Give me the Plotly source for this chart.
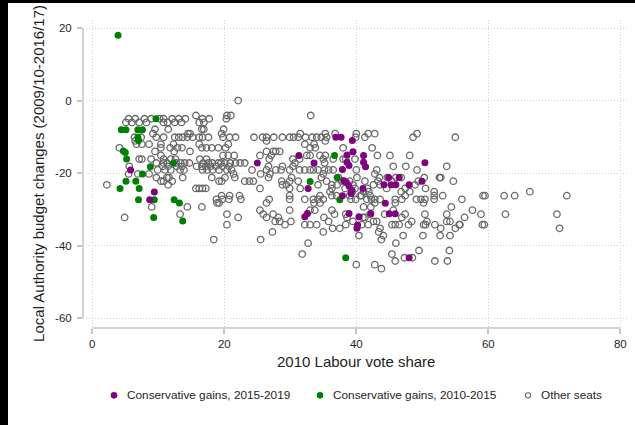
import plotly.graph_objects as go

# ---------------- data ----------------
x_ticks = [0, 20, 40, 60, 80]
x_tick_text = ["0", "20", "40", "60", "80"]
y_ticks = [20, 0, -20, -40, -60]
y_tick_text = ["20", "0", "-20", "-40", "-60"]

purple_name = "Conservative gains, 2015-2019"
green_name = "Conservative gains, 2010-2015"
gray_name = "Other seats"

purple_x = [5.8, 8.7, 9.4, 25.0, 31.3, 33.6, 32.7, 32.2, 32.6, 38.9, 40.4, 40.2,
            40.1, 42.2, 36.9, 37.7, 39.4, 39.5, 38.6, 38.6, 38.9, 37.9, 41.1, 41.1,
            41.4, 38.1, 38.5, 38.9, 39.3, 39.2, 37.9, 41.0, 50.4, 44.9, 46.5, 44.2,
            45.3, 46.0, 48.0, 49.95, 44.4, 45.0, 45.9, 48.0]
purple_y = [-19.1, -27.3, -25.2, -17.2, -15.1, -17.2, -24.2, -32.0, -31.1, -31.1, -32.0, -34.3,
            -35.2, -31.1, -10.1, -10.1, -11.0, -14.1, -15.0, -17.0, -17.9, -19.0, -15.1, -17.0,
            -18.2, -22.1, -22.5, -23.5, -24.8, -25.5, -26.2, -24.2, -17.1, -21.2, -21.2, -23.2,
            -23.2, -23.2, -23.2, -22.2, -28.3, -31.2, -31.2, -43.3]

green_x = [3.9, 4.4, 5.1, 6.9, 7.6, 9.65, 6.9, 7.0, 4.7, 5.0, 5.2, 7.6, 8.8, 12.3,
           4.2, 5.1, 6.6, 7.1, 7.0, 9.4, 12.4, 13.2, 9.3, 13.7, 38.4, 37.5, 36.7,
           33.0, 37.1]
green_y = [18.0, -8.0, -8.0, -8.0, -8.0, -5.0, -10.1, -11.0, -13.9, -14.3, -16.1, -20.2, -18.2, -17.2,
           -24.2, -22.2, -22.2, -24.2, -27.3, -27.3, -27.3, -28.2, -32.2, -33.2, -43.3, -27.3, -15.1,
           -22.3, -21.2]

gray_x = [
    22.1,
    15.7, 20.4, 21.0, 33.1,
    5.5, 6.5, 7.9, 8.9, 10.2, 10.8, 12.1, 13.1, 14.1, 16.7, 17.7, 20.3,
    5.1, 6.0, 7.1, 8.2, 10.8, 11.4, 12.5, 13.5, 16.2, 16.9,
    9.5, 11.5, 16.6, 16.9, 19.9,
    9.2, 14.5, 14.8, 19.6, 31.5, 35.3, 36.8, 40.0, 41.8, 42.8, 49.2,
    6.4, 7.4, 9.7, 10.8, 12.5, 13.1, 13.7, 14.4, 15.2, 16.2, 16.7, 17.6, 19.8, 20.8, 21.7, 24.5,
    25.8, 26.4, 27.5, 28.8, 29.9, 30.5, 31.2, 32.3, 33.3, 34.0, 34.7, 35.5, 39.9, 41.3, 48.6, 55.0,
    6.5, 26.4, 35.3,
    6.7, 7.5, 8.6, 10.4, 12.3, 16.2, 20.6, 32.2, 33.6,
    4.1, 10.4, 11.8, 12.9, 13.6, 16.6, 17.3, 18.1, 19.1, 20.2, 33.0, 33.8, 38.0, 42.4,
    9.5, 12.4, 14.8, 26.4, 27.4, 27.8, 28.4,
    10.4, 19.8, 20.6, 21.5, 25.4, 27.1, 32.5, 33.0, 34.5, 35.3, 43.2, 45.1, 48.1,
    7.1, 7.5, 8.9, 10.8, 11.9, 12.6, 16.3, 17.3, 26.8, 30.4, 31.4, 35.0, 36.5, 38.0, 38.4, 39.8,
    9.7, 10.8, 11.3, 12.7, 13.4, 14.0, 14.7, 16.8, 17.6, 18.2, 19.1, 19.5, 20.1, 20.9, 21.7, 22.4,
    23.1, 30.7, 35.2,
    5.6, 10.7, 11.5, 12.8, 13.6, 15.8, 16.6, 17.2, 17.9, 18.7, 19.7, 20.7, 26.7, 28.8, 30.4, 45.6,
    47.5, 53.7,
    9.9, 11.0, 11.9, 13.3, 13.9, 16.7, 17.4, 18.2, 19.2, 20.4, 21.1, 24.2, 26.4, 27.8, 28.6, 29.9,
    31.4, 32.2, 33.0, 33.5, 34.2, 35.2, 35.8, 36.5, 40.0, 43.1, 49.2,
    5.5, 6.9, 8.6, 21.4, 25.5, 26.9, 35.0, 42.8,
    9.7, 11.3, 11.6, 13.7, 18.1, 20.1, 21.6, 26.7, 30.2, 34.7, 37.3, 40.1, 43.5, 44.7, 46.0, 46.8,
    50.3, 52.6, 52.8,
    10.4, 10.8, 12.1, 19.2, 19.6, 23.1, 23.8, 24.4, 28.7, 29.9, 31.2, 35.5, 37.8, 39.0, 41.3, 43.3,
    45.4, 49.4, 54.7,
    2.2, 11.5, 28.8, 29.4, 34.2, 36.3, 37.1, 39.5, 42.6, 43.6, 48.9,
    15.7, 16.2, 16.7, 17.2, 25.4, 29.9, 31.5, 36.3, 38.3, 39.8, 41.7, 44.6, 47.4, 50.5,
    36.0, 39.4, 41.1, 41.9, 46.8, 48.1, 51.8, 66.3,
    19.6, 20.8, 22.3, 29.9, 34.5, 36.3, 37.0, 39.0, 40.6, 40.8, 42.1, 47.4, 51.8, 53.1, 59.2, 59.5,
    62.4, 64.0, 71.9,
    18.8, 19.7, 20.7, 22.5, 26.8, 29.9, 32.2, 33.5, 34.2, 35.0, 39.2, 39.9, 41.6, 42.3, 42.8, 43.6,
    45.9, 46.9, 49.1, 49.8, 50.4, 51.8, 56.0,
    18.9, 19.2, 26.4, 33.6, 34.5, 42.8, 45.9, 50.2,
    9.0, 14.4, 16.6, 41.1, 42.2, 54.4,
    25.4, 29.9, 33.0, 33.7, 36.3, 45.6, 57.6,
    13.3, 20.4, 25.9, 27.4, 36.7, 38.4, 42.1, 44.3, 47.4, 50.4, 53.7, 58.9, 62.6, 70.4,
    4.9, 22.1, 26.4, 28.2, 35.1, 38.6, 41.0, 41.3, 46.9, 56.4,
    27.7, 28.4, 30.1, 35.8, 39.5, 42.6, 43.1, 48.4, 50.7, 53.7, 54.2,
    20.4, 29.2, 32.2, 33.0, 34.0, 38.4, 40.8, 41.8, 45.4, 45.9, 46.5, 47.9, 50.2, 50.5, 51.9, 55.6,
    55.7, 59.1, 59.4,
    36.4, 37.5, 43.6, 52.8, 55.0, 70.8,
    27.3, 35.0, 43.4,
    40.4, 44.1, 47.1, 50.1, 52.7, 54.2,
    18.4, 25.5, 43.8,
    32.7, 46.0,
    49.5, 54.1,
    31.8, 45.4,
    47.3, 48.5,
    45.9, 51.9, 53.8,
    40.0, 42.8,
    43.8,
]
gray_y = [
    0.0,
    -4.1, -4.1, -4.1, -4.1,
    -5.0, -5.0, -5.0, -5.0, -5.0, -5.0, -5.0, -5.0, -5.0, -5.0, -5.0, -5.0,
    -6.0, -6.0, -6.0, -6.0, -6.0, -6.0, -6.0, -6.0, -6.0, -6.0,
    -7.9, -7.9, -7.9, -7.9, -7.9,
    -9.1, -9.1, -9.1, -9.1, -9.1, -9.1, -9.1, -9.1, -9.1, -9.1, -9.1,
    -10.1, -10.1, -10.1, -10.1, -10.1, -10.1, -10.1, -10.1, -10.1, -10.1, -10.1, -10.1, -10.1, -10.1, -10.1, -10.1,
    -10.1, -10.1, -10.1, -10.1, -10.1, -10.1, -10.1, -10.1, -10.1, -10.1, -10.1, -10.1, -10.1, -10.1, -10.1, -10.1,
    -11.1, -11.1, -11.1,
    -12.0, -12.0, -12.0, -12.0, -12.0, -12.0, -12.0, -12.0, -12.0,
    -13.0, -13.0, -13.0, -13.0, -13.0, -13.0, -13.0, -13.0, -13.0, -13.0, -13.0, -13.0, -13.0, -13.0,
    -14.0, -14.0, -14.0, -14.0, -14.0, -14.0, -14.0,
    -15.1, -15.1, -15.1, -15.1, -15.1, -15.1, -15.1, -15.1, -15.1, -15.1, -15.1, -15.1, -15.1,
    -16.1, -16.1, -16.1, -16.1, -16.1, -16.1, -16.1, -16.1, -16.1, -16.1, -16.1, -16.1, -16.1, -16.1, -16.1, -16.1,
    -17.2, -17.2, -17.2, -17.2, -17.2, -17.2, -17.2, -17.2, -17.2, -17.2, -17.2, -17.2, -17.2, -17.2, -17.2, -17.2,
    -17.2, -17.2, -17.2,
    -18.1, -18.1, -18.1, -18.1, -18.1, -18.1, -18.1, -18.1, -18.1, -18.1, -18.1, -18.1, -18.1, -18.1, -18.1, -18.1,
    -18.1, -18.1,
    -19.1, -19.1, -19.1, -19.1, -19.1, -19.1, -19.1, -19.1, -19.1, -19.1, -19.1, -19.1, -19.1, -19.1, -19.1, -19.1,
    -19.1, -19.1, -19.1, -19.1, -19.1, -19.1, -19.1, -19.1, -19.1, -19.1, -19.1,
    -20.2, -20.2, -20.2, -20.2, -20.2, -20.2, -20.2, -20.2,
    -21.2, -21.2, -21.2, -21.2, -21.2, -21.2, -21.2, -21.2, -21.2, -21.2, -21.2, -21.2, -21.2, -21.2, -21.2, -21.2,
    -21.2, -21.2, -21.2,
    -22.2, -22.2, -22.2, -22.2, -22.2, -22.2, -22.2, -22.2, -22.2, -22.2, -22.2, -22.2, -22.2, -22.2, -22.2, -22.2,
    -22.2, -22.2, -22.2,
    -23.2, -23.2, -23.2, -23.2, -23.2, -23.2, -23.2, -23.2, -23.2, -23.2, -23.2,
    -24.2, -24.2, -24.2, -24.2, -24.2, -24.2, -24.2, -24.2, -24.2, -24.2, -24.2, -24.2, -24.2, -24.2,
    -25.1, -25.1, -25.1, -25.1, -25.1, -25.1, -25.1, -25.1,
    -26.2, -26.2, -26.2, -26.2, -26.2, -26.2, -26.2, -26.2, -26.2, -26.2, -26.2, -26.2, -26.2, -26.2, -26.2, -26.2,
    -26.2, -26.2, -26.2,
    -27.2, -27.2, -27.2, -27.2, -27.2, -27.2, -27.2, -27.2, -27.2, -27.2, -27.2, -27.2, -27.2, -27.2, -27.2, -27.2,
    -27.2, -27.2, -27.2, -27.2, -27.2, -27.2, -27.2,
    -28.2, -28.2, -28.2, -28.2, -28.2, -28.2, -28.2, -28.2,
    -29.3, -29.3, -29.3, -29.3, -29.3, -29.3,
    -30.2, -30.2, -30.2, -30.2, -30.2, -30.2, -30.2,
    -31.3, -31.3, -31.3, -31.3, -31.3, -31.3, -31.3, -31.3, -31.3, -31.3, -31.3, -31.3, -31.3, -31.3,
    -32.2, -32.2, -32.2, -32.2, -32.2, -32.2, -32.2, -32.2, -32.2, -32.2,
    -33.3, -33.3, -33.3, -33.3, -33.3, -33.3, -33.3, -33.3, -33.3, -33.3, -33.3,
    -34.2, -34.2, -34.2, -34.2, -34.2, -34.2, -34.2, -34.2, -34.2, -34.2, -34.2, -34.2, -34.2, -34.2, -34.2, -34.2,
    -34.2, -34.2, -34.2,
    -35.2, -35.2, -35.2, -35.2, -35.2, -35.2,
    -36.2, -36.2, -36.2,
    -37.2, -37.2, -37.2, -37.2, -37.2, -37.2,
    -38.3, -38.3, -38.3,
    -39.3, -39.3,
    -41.3, -41.3,
    -42.3, -42.3,
    -43.3, -43.3,
    -44.2, -44.2, -44.2,
    -45.2, -45.2,
    -46.3,
]

x_title = "2010 Labour vote share"
y_title = "Local Authority budget changes (2009/10-2016/17)"

# ---------------- styling ----------------
FONT = "Liberation Sans, Arial, Helvetica, sans-serif"
AXIS_GRAY = "#c4c4c4"
GRID_GRAY = "#d2d2d2"
TEXT = "#1e1e1e"
PURPLE = "#800080"
GREEN = "#008000"
GRAY = "#676767"

fig = go.Figure()
fig.add_trace(go.Scatter(
    x=gray_x, y=gray_y, mode="markers", name=gray_name,
    marker=dict(symbol="circle-open", size=6.5, color=GRAY, line=dict(width=1.3)),
))
fig.add_trace(go.Scatter(
    x=green_x, y=green_y, mode="markers", name=green_name,
    marker=dict(symbol="circle", size=7, color=GREEN),
))
fig.add_trace(go.Scatter(
    x=purple_x, y=purple_y, mode="markers", name=purple_name,
    marker=dict(symbol="circle", size=7, color=PURPLE),
))

fig.update_layout(
    width=635, height=425, autosize=False,
    margin=dict(l=83, r=7, t=20, b=97, autoexpand=False),
    paper_bgcolor="white", plot_bgcolor="white",
    font=dict(family=FONT, color=TEXT, size=11.5),
    showlegend=False,
)

fig.update_xaxes(
    range=[-1.41, 81.17], tickvals=x_ticks, ticktext=x_tick_text,
    showgrid=True, gridcolor=GRID_GRAY, griddash="1px,2px", gridwidth=1,
    zeroline=False, showline=False,
    ticks="outside", ticklen=5, tickwidth=1.5, tickcolor=AXIS_GRAY,
    tickfont=dict(size=11.5, family=FONT, color=TEXT),
)
fig.update_yaxes(
    range=[-62.66, 22.21], tickvals=y_ticks, ticktext=y_tick_text,
    showgrid=True, gridcolor=GRID_GRAY, griddash="1px,2px", gridwidth=1,
    zeroline=False, showline=False,
    ticks="outside", ticklen=5, tickwidth=1.5, tickcolor=AXIS_GRAY,
    ticklabelstandoff=3,
    tickfont=dict(size=11.5, family=FONT, color=TEXT),
)

# axis lines spanning the tick range (Stata style)
fig.add_shape(type="line", xref="paper", yref="y", x0=0, x1=0,
              y0=min(y_ticks), y1=max(y_ticks), line=dict(color=AXIS_GRAY, width=1.5))
fig.add_shape(type="line", xref="x", yref="paper", x0=min(x_ticks), x1=max(x_ticks),
              y0=0, y1=0, line=dict(color=AXIS_GRAY, width=1.5))

# black frame strips visible at the top and left of the reference image
fig.add_shape(type="rect", xref="paper", yref="paper", x0=-0.5, x1=-0.1376,
              y0=-0.6, y1=1.5, fillcolor="black", line=dict(width=0), layer="above")
fig.add_shape(type="rect", xref="paper", yref="paper", x0=-0.5, x1=1.5,
              y0=1.0552, y1=1.5, fillcolor="black", line=dict(width=0), layer="above")

# axis titles
fig.add_annotation(text=x_title, xref="x", yref="paper", x=40, y=-0.1098,
                   xanchor="center", yanchor="middle", showarrow=False,
                   font=dict(size=15, family=FONT, color=TEXT))
fig.add_annotation(text=y_title, xref="paper", yref="y", x=-0.0831, y=-20,
                   xanchor="center", yanchor="middle", textangle=-90, showarrow=False,
                   font=dict(size=15, family=FONT, color=TEXT))

# legend row below the plot (symbol + label for each series)
legend_items = [
    (purple_name, 0.0569, "fill", PURPLE),
    (green_name, 0.4349, "fill", GREEN),
    (gray_name, 0.8165, "open", GRAY),
]
LEG_Y = -0.2187
for label, lx, kind, col in legend_items:
    if kind == "fill":
        fig.add_shape(type="circle", xref="paper", yref="paper",
                      xsizemode="pixel", ysizemode="pixel", xanchor=lx, yanchor=LEG_Y,
                      x0=-3.3, x1=3.3, y0=-3.3, y1=3.3,
                      fillcolor=col, line=dict(width=0))
    else:
        fig.add_shape(type="circle", xref="paper", yref="paper",
                      xsizemode="pixel", ysizemode="pixel", xanchor=lx, yanchor=LEG_Y,
                      x0=-2.6, x1=2.6, y0=-2.6, y1=2.6,
                      fillcolor="rgba(0,0,0,0)", line=dict(width=1.1, color=col))
    fig.add_annotation(text=label, xref="paper", yref="paper", x=lx + 0.0202, y=LEG_Y,
                       xanchor="left", yanchor="middle", showarrow=False,
                       font=dict(size=11.8, family=FONT, color=TEXT))

fig.write_html("out.html")
